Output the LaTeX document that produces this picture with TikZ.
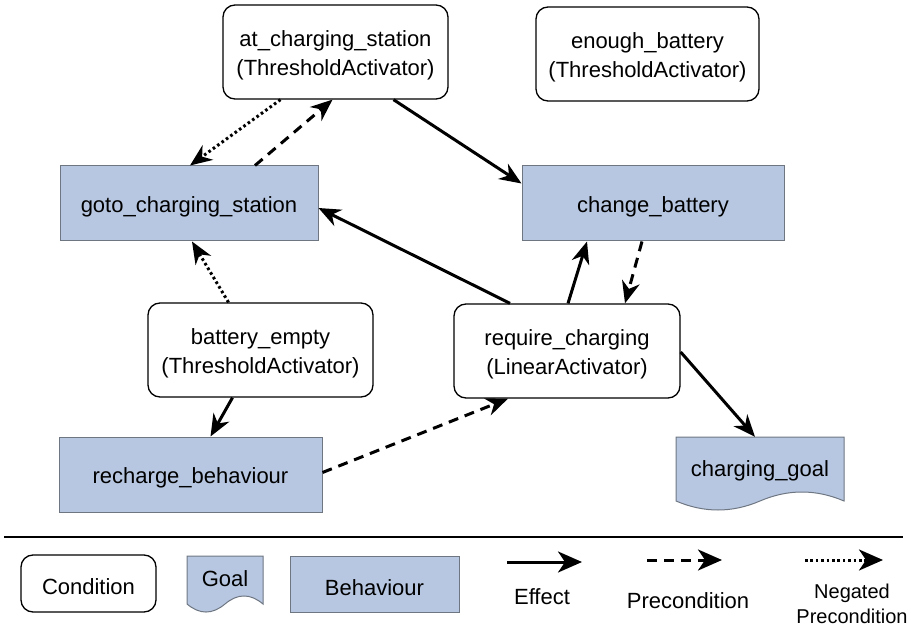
\documentclass[tikz,border=0pt]{standalone}
\usepackage{fontspec}
\setmainfont{Liberation Sans}
\usetikzlibrary{arrows.meta}
\definecolor{behfill}{RGB}{183,199,225}
\definecolor{behline}{RGB}{110,118,130}
\tikzset{
  ctext/.style={inner sep=0pt, align=center, font=\fontsize{22}{29}\selectfont, yshift=-3.5pt},
  boxtext/.style={label={[ctext]center:{#1}}},
  cond/.style={draw=black, line width=1.3pt, rounded corners=12pt, fill=white, inner sep=0pt},
  beh/.style={draw=behline, line width=1pt, fill=behfill, inner sep=0pt},
  txt/.style={inner sep=0pt, align=center, font=\fontsize{22}{25}\selectfont},
  docline/.style={draw=behline, line width=1pt, fill=behfill},
  tip/.style={-{Stealth[length=22pt,width=18pt,inset=7pt]}},
  eff/.style={tip, line width=3pt},
  pre/.style={tip, line width=3pt, dash pattern=on 10pt off 7pt},
  neg/.style={tip, line width=3pt, dash pattern=on 2.6pt off 2.8pt},
  bigtip/.style={-{Stealth[length=24pt,width=21pt,inset=7pt]}},
}
\begin{document}
\begin{tikzpicture}[x=1pt,y=-1pt]
\useasboundingbox (0,0) rectangle (911,631);
% condition nodes
\node[cond, minimum width=225pt, minimum height=94pt, boxtext={at\_charging\_station\\(ThresholdActivator)}] (ats) at (335.5,52) {};
\node[cond, minimum width=223pt, minimum height=94pt, boxtext={enough\_battery\\(ThresholdActivator)}] (eb) at (647.5,54) {};
\node[cond, minimum width=225pt, minimum height=94pt, boxtext={battery\_empty\\(ThresholdActivator)}] (be) at (260.5,350) {};
\node[cond, minimum width=226pt, minimum height=94pt, boxtext={require\_charging\\(LinearActivator)}] (rc) at (567,351) {};
% behaviours
\node[beh, minimum width=258pt, minimum height=75pt, boxtext={goto\_charging\_station}] (gcs) at (189,203.5) {};
\node[beh, minimum width=262pt, minimum height=75pt, boxtext={change\_battery}] (cb) at (653,203.5) {};
\node[beh, minimum width=263pt, minimum height=75pt, boxtext={recharge\_behaviour}] (rb) at (190.5,474.5) {};
% goal
\path[docline] (676,437) -- (844,437) -- (844,501)
  .. controls (816,489) and (788,489) .. (760,501)
  .. controls (732,513) and (704,513) .. (676,501) -- cycle;
\node[inner sep=0pt, minimum width=168pt, minimum height=64pt] (cg) at (760,469) {};
\node[txt] (cgt) at (760,471) {charging\_goal};
% connectors
\draw[neg] ([xshift=-55pt]ats.south) -- ([xshift=1pt]gcs.north);
\draw[pre] ([xshift=66pt]gcs.north) -- ([xshift=-3pt]ats.south);
\draw[eff] ([xshift=58pt]ats.south) -- ([yshift=20pt]cb.west);
\draw[eff] ([xshift=-57pt]rc.north) -- ([yshift=-4.5pt]gcs.east);
\draw[eff] ([xshift=1pt]rc.north) -- ([xshift=-66pt]cb.south);
\draw[pre] ([xshift=-11pt]cb.south) -- ([xshift=58pt]rc.north);
\draw[neg] ([xshift=-32pt]be.north) -- ([xshift=3pt]gcs.south);
\draw[eff] ([xshift=-28pt]be.south) -- ([xshift=20pt]rb.north);
\draw[pre] ([yshift=2pt]rb.east) -- ([xshift=-59pt]rc.south);
\draw[eff] ([yshift=-1pt]rc.east) -- ([xshift=-5pt]cg.north);
% legend separator
\coordinate (sepL) at (4,537);
\coordinate (sepR) at (903,537);
\draw[line width=1.5pt] (sepL) -- (sepR);
% legend shapes
\node[cond, minimum width=135pt, minimum height=57pt, boxtext={Condition}] (lcond) at (88.5,583.5) {};
\path[docline] (187,556) -- (263,556) -- (263,604)
  .. controls (250.3,593.3) and (237.7,593.3) .. (225,604)
  .. controls (212.3,614.7) and (199.7,614.7) .. (187,604) -- cycle;
\node[txt] (lgoal) at (225,579) {Goal};
\node[beh, minimum width=169pt, minimum height=56pt, boxtext={Behaviour}] (lbeh) at (374.5,584) {};
% legend arrows
\coordinate (effA) at (507,562);
\coordinate (effB) at (582,562);
\coordinate (preA) at (647,560);
\coordinate (preB) at (722,560);
\coordinate (negA) at (805,560);
\coordinate (negB) at (883,560);
\draw[eff, bigtip] (effA) -- (effB);
\draw[pre, bigtip] (preA) -- (preB);
\draw[neg, bigtip] (negA) -- (negB);
\node[txt] (leff) at (542,597) {Effect};
\node[txt] (lpre) at (688,601) {Precondition};
\node[txt, font=\fontsize{20}{25}\selectfont] (lneg) at (852,604) {Negated\\Precondition};
\end{tikzpicture}
\end{document}
